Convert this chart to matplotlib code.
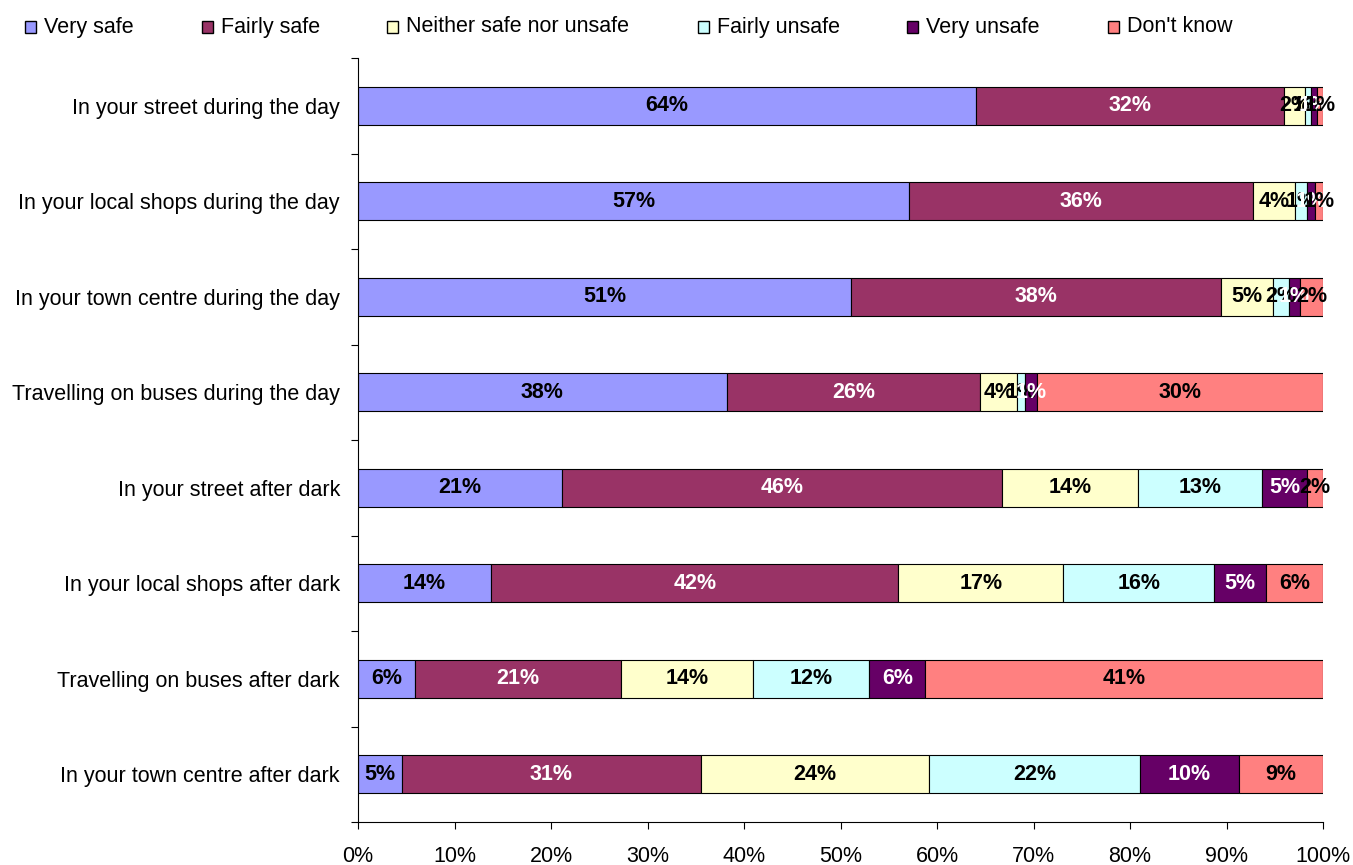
import matplotlib
matplotlib.use('Agg')
import matplotlib.pyplot as plt
from matplotlib.patches import Rectangle
import numpy as np

plt.rcParams['font.family'] = ['Liberation Sans', 'DejaVu Sans']

# categories, top to bottom
places = ['In your street during the day',
          'In your local shops during the day',
          'In your town centre during the day',
          'Travelling on buses during the day',
          'In your street after dark',
          'In your local shops after dark',
          'Travelling on buses after dark',
          'In your town centre after dark']

# percentages per answer
very_safe = [64.0, 57.1, 51.1, 38.2, 21.1, 13.8, 5.9, 4.6]
fairly_safe = [32.0, 35.6, 38.3, 26.3, 45.6, 42.2, 21.4, 30.9]
neither = [2.1, 4.4, 5.4, 3.8, 14.1, 17.1, 13.6, 23.7]
fairly_unsafe = [0.7, 1.2, 1.7, 0.8, 12.9, 15.6, 12.1, 21.8]
very_unsafe = [0.6, 0.9, 1.1, 1.3, 4.6, 5.4, 5.8, 10.3]
dont_know = [0.6, 0.8, 2.4, 29.6, 1.7, 5.9, 41.2, 8.7]

series_names = ['Very safe', 'Fairly safe', 'Neither safe nor unsafe',
                'Fairly unsafe', 'Very unsafe', "Don't know"]
series = [very_safe, fairly_safe, neither, fairly_unsafe, very_unsafe, dont_know]
colors = ['#9999FF', '#993366', '#FFFFCC', '#CCFFFF', '#660066', '#FF8080']
text_colors = ['black', 'white', 'black', 'black', 'white', 'black']

W, H = 1353, 865
FS = 15.5

fig = plt.figure(figsize=(W / 100, H / 100), dpi=100)
ax = fig.add_axes([358 / W, 1 - 822 / H, 965 / W, 764 / H])

y = np.arange(len(places))
left = np.zeros(len(places))
for name, vals, col, tcol in zip(series_names, series, colors, text_colors):
    vals = np.array(vals)
    ax.barh(y, vals, left=left, height=0.4, color=col,
            edgecolor='black', linewidth=0.8, label=name)
    for yi, l, v in zip(y, left, vals):
        ax.text(l + v / 2, yi, f'{round(v):.0f}%', ha='center', va='center',
                fontsize=FS, fontweight='bold', color=tcol)
    left += vals

ax.set_xlim(0, 100)
ax.set_ylim(len(places) - 0.5, -0.5)
ax.set_xticks(np.arange(0, 101, 10))
ax.set_xticklabels([f'{t}%' for t in range(0, 101, 10)], fontsize=FS)
ax.set_yticks(np.arange(-0.5, len(places), 1))
ax.set_yticklabels([])
ax.set_yticks(y, minor=True)
ax.set_yticklabels(places, minor=True, fontsize=FS)
ax.tick_params(axis='y', which='minor', length=0, pad=13)
ax.tick_params(axis='y', which='major', length=5, direction='out')
ax.tick_params(axis='x', length=5, direction='out', pad=12)
for s in ['top', 'right']:
    ax.spines[s].set_visible(False)
ax.spines['left'].set_linewidth(0.8)
ax.spines['bottom'].set_linewidth(0.8)

# legend drawn by hand to match the spacing of the original
leg_x = [25, 202, 387, 698, 907, 1108]
leg_y = 27
sq = 11
for lx, name, col in zip(leg_x, series_names, colors):
    fig.add_artist(Rectangle((lx / W, 1 - (leg_y + sq / 2) / H), sq / W, sq / H,
                             transform=fig.transFigure, facecolor=col,
                             edgecolor='black', linewidth=1.0))
    fig.text((lx + sq + 8) / W, 1 - leg_y / H, name, fontsize=FS,
             ha='left', va='center')

fig.savefig('out.png', dpi=100)
